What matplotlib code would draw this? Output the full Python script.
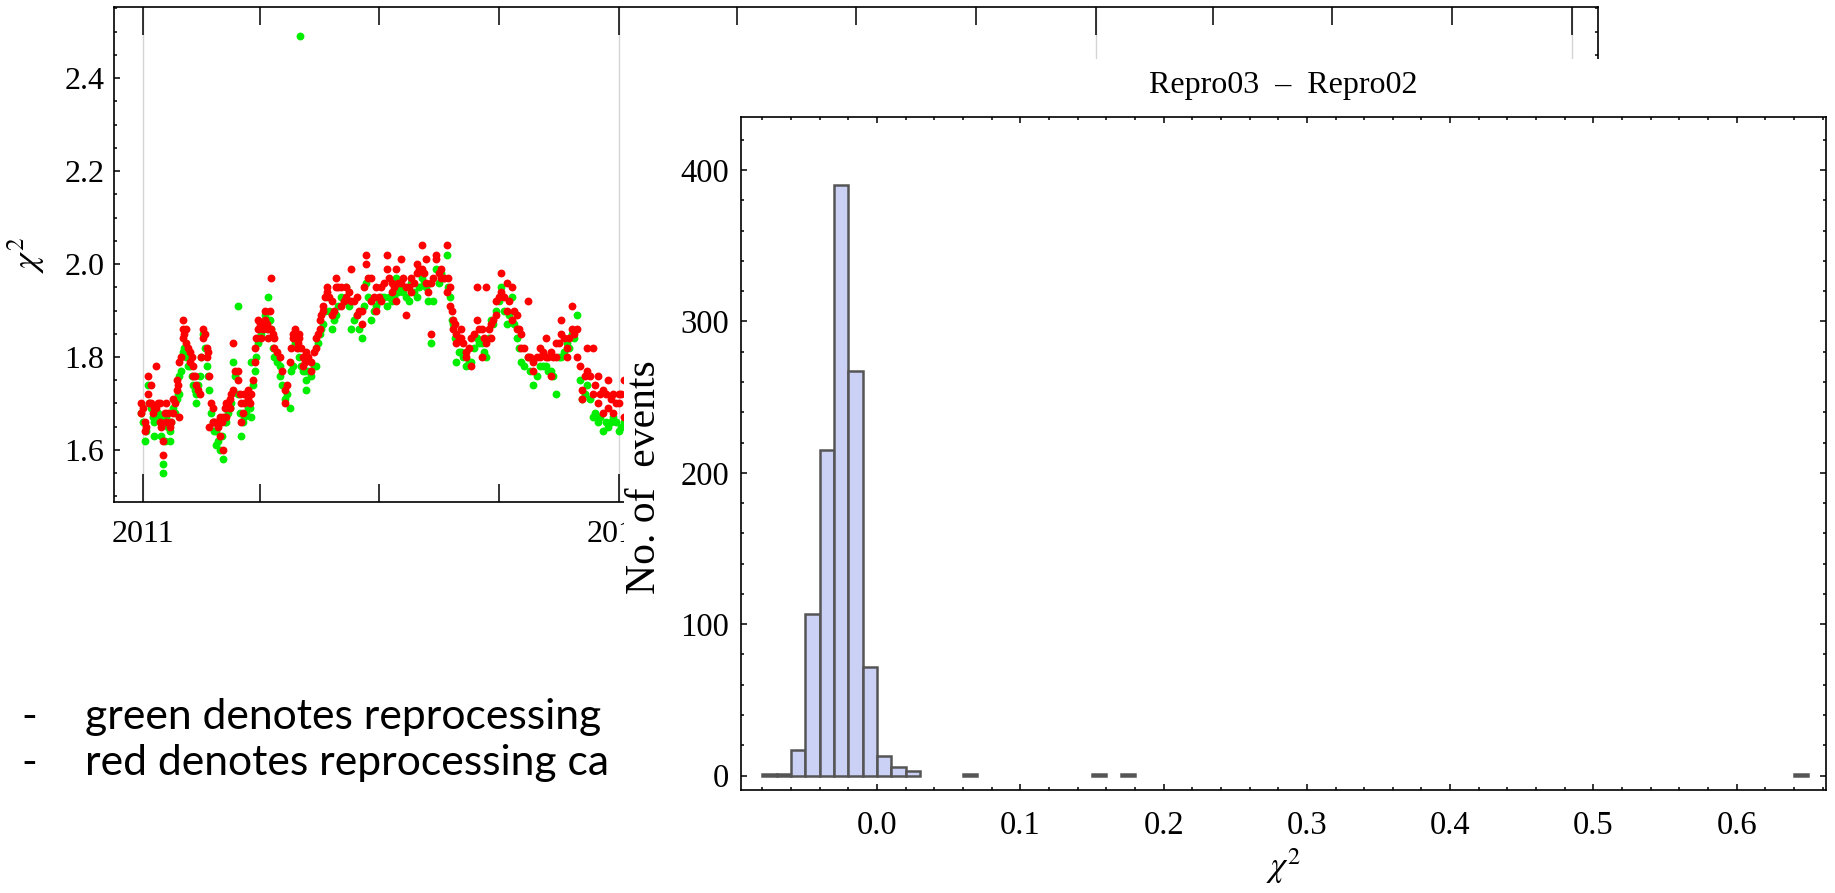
import datetime as dt
import numpy as np
import matplotlib
matplotlib.use('Agg')
import matplotlib.pyplot as plt
import matplotlib.dates as mdates
from matplotlib.patches import Rectangle
from matplotlib.ticker import MultipleLocator

# chi2 par jour (jours depuis le 1er janvier 2011)
green_days = [-1, 1.5, 4, 6.6, 9, 9, 13, 15.6, 15.6, 18, 20.7, 20.7, 23, 26, 28, 28, 31, 33.5,
              36, 38.6, 41, 41, 43.7, 46, 49, 51, 54, 56.5, 56.5, 59, 61.6, 64, 66.7, 69,
              73, 73, 75.7, 78, 81, 83, 83, 86, 88.5, 91, 93.6, 96, 98.7, 101, 105, 105,
              109, 113, 115, 118, 120, 121, 123, 125.5, 125.5, 129, 133, 136, 138, 141,
              145, 148.5, 152, 156, 160, 164, 168, 171.5, 175, 179, 183, 187, 191, 194.5,
              198, 202, 206, 210, 214, 217.6, 221, 225, 229, 233, 235.5, 238, 240.6, 244.4,
              248, 252, 256, 260, 263.6, 267, 271, 275, 279, 283, 287, 290, 295.5, 299,
              304.5, 309.6, 313, 317, 321, 325, 329, 333, 337, 341, 345, 349, 353, 357,
              361, 365, 369, 373]
green_vals = [1.68, 1.62, 1.74, 1.69, 1.66, 1.63, 1.67, 1.57, 1.55, 1.67, 1.62, 1.64, 1.69, 1.71,
              1.76, 1.72, 1.81, 1.80, 1.78, 1.74, 1.72, 1.70, 1.76, 1.85, 1.78, 1.73, 1.66,
              1.64, 1.61, 1.60, 1.58, 1.66, 1.69, 1.79, 1.91, 1.72, 1.63, 1.67, 1.69, 1.67,
              1.79, 1.77, 1.83, 1.85, 1.89, 1.93, 1.86, 1.80, 1.78, 1.76, 1.71, 1.69, 1.78,
              1.85, 1.80, 2.49, 1.77, 1.75, 1.73, 1.76, 1.78, 1.85, 1.87, 1.93, 1.86, 1.89,
              1.93, 1.95, 1.86, 1.89, 1.84, 1.96, 1.88, 1.91, 1.93, 1.91, 1.92, 1.97, 1.95,
              1.93, 1.96, 1.93, 1.97, 1.95, 1.83, 1.99, 1.98, 2.02, 1.93, 1.87, 1.79, 1.81,
              1.78, 1.79, 1.84, 1.83, 1.80, 1.88, 1.90, 1.95, 1.87, 1.93, 1.84, 1.79, 1.80,
              1.74, 1.78, 1.78, 1.77, 1.72, 1.80, 1.83, 1.85, 1.89, 1.71, 1.74, 1.67, 1.66,
              1.64, 1.65, 1.67, 1.64, 1.66, 1.70]
green_days_b = [0, 2.5, 5, 8, 11.5, 14, 17, 19.5, 22, 24.5, 27, 29.5, 32, 35, 37.5, 40, 42.5,
                45, 47.5, 50, 52.5, 55, 58, 60.5, 63, 65.5, 68, 71, 74.5, 77, 79.5, 82, 84.5,
                87, 90, 92.5, 95, 97.5, 100, 103, 107, 111, 114, 116.5, 119, 121.5, 124.5,
                127, 131, 134.5, 137, 139.5, 143, 147, 150, 154, 158, 162, 166, 170, 173,
                177, 181, 185, 189, 193, 196, 200, 204, 208, 212, 216, 219, 223, 227, 231,
                234, 237, 239.5, 242.5, 246, 250, 254, 258, 262, 265.5, 269, 273, 277, 281,
                285, 288.5, 292.5, 297, 302, 307, 311, 315, 319, 323, 327, 331, 335, 339,
                343, 347, 351, 355, 359, 363, 367, 371]
green_vals_b = [1.66, 1.64, 1.70, 1.67, 1.68, 1.63, 1.62, 1.65, 1.66, 1.68, 1.72, 1.77, 1.82,
                1.78, 1.76, 1.73, 1.74, 1.80, 1.82, 1.76, 1.68, 1.64, 1.62, 1.63, 1.66, 1.68,
                1.70, 1.76, 1.68, 1.66, 1.68, 1.69, 1.74, 1.80, 1.84, 1.86, 1.86, 1.88, 1.82,
                1.79, 1.74, 1.72, 1.77, 1.83, 1.82, 1.78, 1.77, 1.77, 1.78, 1.83, 1.86, 1.90,
                1.90, 1.88, 1.91, 1.92, 1.91, 1.88, 1.86, 1.91, 1.93, 1.90, 1.92, 1.93, 1.93,
                1.93, 1.94, 1.94, 1.92, 1.94, 1.95, 1.96, 1.92, 1.92, 1.96, 1.97, 1.95, 1.88,
                1.84, 1.81, 1.80, 1.79, 1.82, 1.83, 1.81, 1.84, 1.87, 1.92, 1.90, 1.89, 1.87,
                1.82, 1.78, 1.77, 1.76, 1.78, 1.77, 1.76, 1.80, 1.81, 1.82, 1.84, 1.75, 1.72,
                1.71, 1.68, 1.67, 1.66, 1.66, 1.66, 1.65, 1.67]

red_days = [-1, -1, 1.5, 1.5, 4, 4, 6.6, 6.6, 9, 10.5, 10.5, 13, 13, 15.6, 15.6, 18, 18, 20.7,
            23, 23, 26, 26, 28, 28, 31, 31, 31, 33.5, 33.5, 36, 36, 38.6, 38.6, 41, 43.7,
            46, 46, 49, 49, 51, 51, 54, 54, 56.5, 59, 59, 61.6, 61.6, 64, 64, 66.7, 66.7,
            69, 69, 73, 73, 75.7, 75.7, 78, 78, 81, 81, 83, 86, 86, 88.5, 88.5, 91, 91,
            93.6, 93.6, 96, 96, 98.7, 98.7, 101, 101, 105, 109, 109, 113, 115, 115, 118,
            118, 120, 120, 123, 123, 125.5, 129, 129, 133, 133, 136, 136, 138, 138, 141,
            141, 145, 145, 148.5, 148.5, 152, 152, 156, 156, 160, 160, 164, 164, 168, 168,
            171.5, 171.5, 175, 175, 179, 179, 183, 183, 187, 187, 191, 191, 194.5, 194.5,
            198, 198, 202, 202, 206, 206, 210, 210, 214, 214, 217.6, 217.6, 221, 221, 225,
            225, 229, 229, 233, 233, 235.5, 235.5, 238, 238, 240.6, 240.6, 244.4, 244.4,
            248, 248, 252, 252, 256, 256, 260, 260, 263.6, 263.6, 267, 267, 271, 271, 275,
            275, 279, 279, 283, 283, 287, 287, 290, 290, 295.5, 295.5, 299, 299, 304.5,
            304.5, 309.6, 309.6, 313, 313, 317, 317, 321, 321, 325, 325, 329, 329, 333, 333,
            337, 337, 341, 341, 345, 345, 349, 349, 353, 353, 357, 357, 361, 361, 365, 365,
            369, 369, 373, 373]
red_vals = [1.70, 1.68, 1.66, 1.64, 1.76, 1.72, 1.74, 1.70, 1.69, 1.78, 1.69, 1.70, 1.66, 1.62,
            1.59, 1.70, 1.66, 1.65, 1.68, 1.71, 1.73, 1.75, 1.79, 1.67, 1.84, 1.86, 1.88,
            1.86, 1.83, 1.81, 1.79, 1.78, 1.76, 1.74, 1.72, 1.86, 1.84, 1.82, 1.80, 1.76,
            1.65, 1.69, 1.66, 1.66, 1.67, 1.63, 1.60, 1.67, 1.70, 1.67, 1.71, 1.69, 1.83,
            1.73, 1.77, 1.75, 1.70, 1.66, 1.72, 1.70, 1.71, 1.73, 1.72, 1.82, 1.79, 1.88,
            1.86, 1.87, 1.84, 1.90, 1.88, 1.86, 1.84, 1.97, 1.86, 1.84, 1.82, 1.80, 1.73,
            1.70, 1.79, 1.85, 1.84, 1.85, 1.82, 1.85, 1.84, 1.80, 1.78, 1.81, 1.79, 1.77,
            1.82, 1.84, 1.88, 1.86, 1.91, 1.90, 1.95, 1.94, 1.92, 1.89, 1.97, 1.95, 1.95,
            1.91, 1.95, 1.93, 1.99, 1.92, 1.93, 1.89, 1.90, 1.87, 2.02, 2.00, 1.97, 1.92,
            1.95, 1.90, 1.95, 1.92, 2.02, 1.99, 1.96, 1.94, 1.99, 1.92, 2.01, 1.96, 1.95,
            1.89, 1.97, 1.94, 2.00, 1.98, 2.04, 1.99, 2.01, 1.96, 1.85, 1.96, 2.02, 2.01,
            1.99, 1.97, 2.04, 1.94, 1.95, 1.91, 1.88, 1.86, 1.85, 1.83, 1.86, 1.84, 1.81,
            1.80, 1.84, 1.78, 1.95, 1.88, 1.86, 1.80, 1.95, 1.83, 1.87, 1.84, 1.92, 1.89,
            1.98, 1.94, 1.96, 1.90, 1.95, 1.88, 1.89, 1.86, 1.85, 1.82, 1.92, 1.80, 1.79,
            1.77, 1.80, 1.82, 1.80, 1.84, 1.81, 1.76, 1.80, 1.83, 1.85, 1.88, 1.82, 1.80,
            1.86, 1.91, 1.86, 1.80, 1.73, 1.71, 1.82, 1.77, 1.82, 1.72, 1.70, 1.76, 1.73,
            1.68, 1.75, 1.69, 1.72, 1.68, 1.72, 1.70, 1.75, 1.67, 1.74, 1.71]
red_days_b = green_days_b
red_vals_b = [1.69, 1.65, 1.70, 1.68, 1.70, 1.65, 1.68, 1.68, 1.66, 1.70, 1.74, 1.80, 1.85,
              1.82, 1.80, 1.76, 1.73, 1.80, 1.85, 1.81, 1.70, 1.66, 1.65, 1.66, 1.69, 1.70,
              1.72, 1.77, 1.72, 1.68, 1.72, 1.70, 1.75, 1.84, 1.87, 1.86, 1.87, 1.90, 1.85,
              1.81, 1.77, 1.74, 1.82, 1.86, 1.83, 1.82, 1.79, 1.80, 1.81, 1.85, 1.89, 1.93,
              1.93, 1.90, 1.95, 1.92, 1.94, 1.92, 1.90, 1.95, 1.97, 1.93, 1.93, 1.96, 1.97,
              1.95, 1.96, 1.97, 1.95, 1.96, 1.99, 1.98, 1.94, 1.97, 1.98, 1.97, 1.97, 1.90,
              1.87, 1.84, 1.83, 1.82, 1.85, 1.86, 1.84, 1.86, 1.88, 1.93, 1.93, 1.92, 1.90,
              1.86, 1.82, 1.80, 1.80, 1.81, 1.80, 1.80, 1.83, 1.84, 1.84, 1.85, 1.78, 1.76,
              1.76, 1.74, 1.72, 1.72, 1.71, 1.70, 1.72, 1.72]

# histogramme Repro03 - Repro02 (bords gauches des classes de largeur 0.01)
bin_lefts = [-0.08, -0.07, -0.06, -0.05, -0.04, -0.03, -0.02, -0.01, 0.00, 0.01, 0.02,
             0.06, 0.15, 0.17, 0.64]
counts = [1, 1, 17, 107, 215, 390, 267, 72, 13, 6, 3, 1, 1, 1, 1]
bin_width = 0.01

W, H = 1835, 893
plt.rcParams['font.family'] = 'Liberation Serif'
plt.rcParams['mathtext.fontset'] = 'stix'

fig = plt.figure(figsize=(W / 100, H / 100), dpi=100)

# --- graphique temporel (en arriere plan)
ax = fig.add_axes([114 / W, 1 - 502 / H, 1484 / W, 495 / H], zorder=0)
t0 = mdates.date2num(dt.datetime(2011, 1, 1))
gx = t0 + np.array(green_days + green_days_b)
rx = t0 + np.array(red_days + red_days_b)
ax.scatter(gx, green_vals + green_vals_b, s=32, c='#00ee00', lw=0, zorder=3)
ax.scatter(rx, red_vals + red_vals_b, s=32, c='#ff0000', lw=0, zorder=4)
ax.set_xlim(t0 - 22, t0 + 1116)
ax.set_ylim(1.488, 2.553)
ax.xaxis.set_major_locator(mdates.YearLocator())
ax.xaxis.set_major_formatter(mdates.DateFormatter('%Y'))
ax.xaxis.set_minor_locator(mdates.MonthLocator(bymonth=[4, 7, 10]))
ax.yaxis.set_major_locator(MultipleLocator(0.2))
ax.yaxis.set_minor_locator(MultipleLocator(0.05))
ax.tick_params(direction='in', which='both', top=True, right=True, labelsize=23, width=1.1)
ax.tick_params(axis='x', which='major', length=20, pad=13)
ax.tick_params(axis='x', which='minor', length=13)
ax.tick_params(axis='y', which='major', length=4, pad=7)
ax.tick_params(axis='y', which='minor', length=2.5)
ax.grid(axis='x', which='major', color='#d4d4d4', lw=1)
ax.set_ylabel(r'$\chi^2$', fontsize=26)
ax.yaxis.set_label_coords(-0.045, 0.5)
for s in ax.spines.values():
    s.set_linewidth(1.2)

# --- texte de la diapo
for y, txt in [(717, 'green denotes reprocessing'), (763, 'red denotes reprocessing ca')]:
    fig.text(21 / W, 1 - y / H, '-', fontsize=30.7, family='Lato', va='center', zorder=1)
    fig.text(85 / W, 1 - y / H, txt, fontsize=30.7, family='Lato', va='center', zorder=1)

# --- cadre blanc de l'image collee
fig.add_artist(Rectangle((624 / W, 0), 1 - 624 / W, 1 - 59 / H, transform=fig.transFigure,
                         facecolor='white', edgecolor='none', zorder=2))

# --- histogramme
hx = fig.add_axes([741 / W, 1 - 790 / H, 1085 / W, 673 / H], zorder=3)
hx.bar(bin_lefts, counts, width=bin_width, align='edge', color='#cbd0f5',
       edgecolor='#555555', lw=1.8)
hx.set_xlim(-0.0949, 0.6623)
hx.set_ylim(-9.5, 435)
hx.xaxis.set_major_locator(MultipleLocator(0.1))
hx.xaxis.set_minor_locator(MultipleLocator(0.02))
hx.yaxis.set_major_locator(MultipleLocator(100))
hx.yaxis.set_minor_locator(MultipleLocator(20))
hx.tick_params(direction='in', which='both', top=True, right=True, labelsize=23.5, width=1.1)
hx.tick_params(which='major', length=4.5)
hx.tick_params(which='minor', length=2.3)
hx.tick_params(axis='x', pad=14.5)
hx.tick_params(axis='y', pad=8.4)
hx.set_title('Repro03  –  Repro02', fontsize=23, pad=17)
hx.set_xlabel(r'$\chi^2$', fontsize=25, labelpad=4)
hx.set_ylabel('No. of  events', fontsize=30)
hx.yaxis.set_label_coords(-0.071, 0.465)
for s in hx.spines.values():
    s.set_linewidth(1.2)

fig.savefig('out.png', dpi=100)
